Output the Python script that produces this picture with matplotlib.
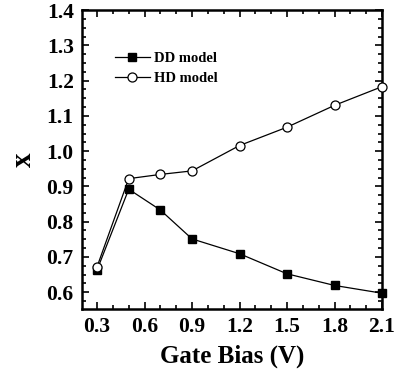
import numpy as np
import matplotlib
matplotlib.use('Agg')
import matplotlib.pyplot as plt
from matplotlib.ticker import MultipleLocator, AutoMinorLocator

# Gate bias values (V)
gate_bias = [0.3, 0.5, 0.7, 0.9, 1.2, 1.5, 1.8, 2.1]

# Drift-diffusion model
dd_model = [0.663, 0.892, 0.833, 0.751, 0.709, 0.652, 0.619, 0.597]

# Hydrodynamic model
hd_model = [0.672, 0.922, 0.934, 0.944, 1.016, 1.068, 1.130, 1.183]

plt.rcParams['font.family'] = 'Liberation Serif'
plt.rcParams['font.weight'] = 'bold'

fig = plt.figure(figsize=(4.03, 3.76), dpi=100)
ax = fig.add_axes([0.2035, 0.178, 0.7445, 0.795])

ax.plot(gate_bias, dd_model, color='black', lw=0.9, marker='s', ms=6,
        mfc='black', mec='black', label='DD model', clip_on=False, zorder=3)
ax.plot(gate_bias, hd_model, color='black', lw=0.9, marker='o', ms=6.5,
        mfc='white', mec='black', mew=0.9, label='HD model', clip_on=False, zorder=3)

ax.set_xlim(0.205, 2.1)
ax.set_ylim(0.552, 1.4)
ax.xaxis.set_major_locator(MultipleLocator(0.3))
ax.xaxis.set_minor_locator(AutoMinorLocator(3))
ax.yaxis.set_major_locator(MultipleLocator(0.1))
ax.yaxis.set_minor_locator(AutoMinorLocator(4))
ax.set_xticks([0.3, 0.6, 0.9, 1.2, 1.5, 1.8, 2.1])
ax.set_yticks([0.6, 0.7, 0.8, 0.9, 1.0, 1.1, 1.2, 1.3, 1.4])

ax.tick_params(which='both', direction='in', top=True, right=True, labelsize=15.5, width=1.2)
ax.tick_params(which='major', length=5, pad=6)
ax.tick_params(which='minor', length=3)
for lab in ax.get_xticklabels() + ax.get_yticklabels():
    lab.set_fontweight('bold')
for s in ax.spines.values():
    s.set_linewidth(1.8)

ax.set_xlabel('Gate Bias (V)', fontsize=18, fontweight='bold', labelpad=5)
ax.set_ylabel('x', fontsize=21, fontweight='bold', labelpad=7)

leg = ax.legend(loc='upper left', bbox_to_anchor=(0.065, 0.905), frameon=False,
                handlelength=2.4, handletextpad=0.3, labelspacing=0.45,
                prop={'weight': 'bold', 'size': 10.5})

fig.savefig('out.png', dpi=100)
